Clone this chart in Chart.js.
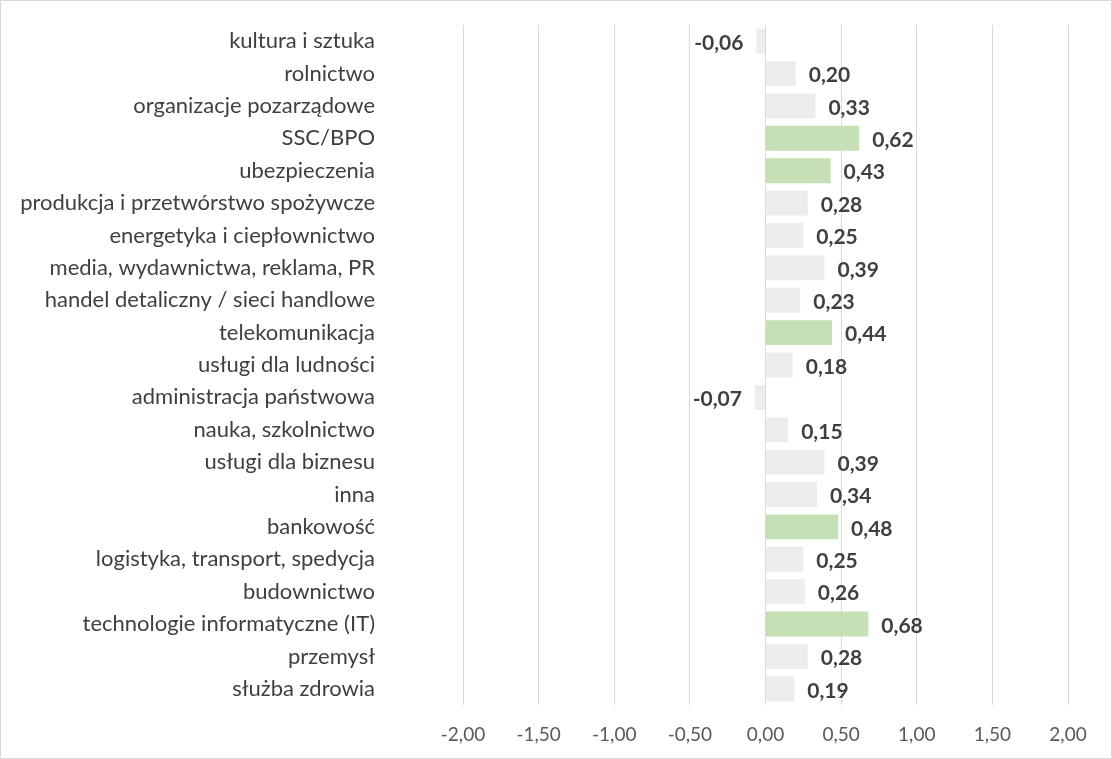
<!DOCTYPE html>
<html>
<head>
<meta charset="utf-8">
<script src="https://cdn.jsdelivr.net/npm/chart.js@4"></script>
<style>
  html, body { margin: 0; padding: 0; background: #fff; }
  #wrap { width: 1110px; height: 757px; border: 1px solid #d9d9d9; }
  canvas { display: block; }
</style>
</head>
<body>
<div id="wrap"><canvas id="chart" width="1110" height="757"></canvas></div>
<script>
const categories = [
  'kultura i sztuka', 'rolnictwo', 'organizacje pozarządowe', 'SSC/BPO', 'ubezpieczenia',
  'produkcja i przetwórstwo spożywcze', 'energetyka i ciepłownictwo', 'media, wydawnictwa, reklama, PR',
  'handel detaliczny / sieci handlowe', 'telekomunikacja', 'usługi dla ludności', 'administracja państwowa',
  'nauka, szkolnictwo', 'usługi dla biznesu', 'inna', 'bankowość', 'logistyka, transport, spedycja',
  'budownictwo', 'technologie informatyczne (IT)', 'przemysł', 'służba zdrowia'
];
const values = [
  -0.06, 0.20, 0.33, 0.62, 0.43,
  0.28, 0.25, 0.39,
  0.23, 0.44, 0.18, -0.07,
  0.15, 0.39, 0.34, 0.48, 0.25,
  0.26, 0.68, 0.28, 0.19
];
// highlighted sectors (green bars)
const highlighted = ['SSC/BPO', 'ubezpieczenia', 'telekomunikacja', 'bankowość', 'technologie informatyczne (IT)'];
const xTicks = [-2, -1.5, -1, -0.5, 0, 0.5, 1, 1.5, 2];

const fmt = v => v.toFixed(2).replace('.', ',');

const valueLabels = {
  id: 'valueLabels',
  afterDatasetsDraw(chart) {
    const ctx = chart.ctx;
    const meta = chart.getDatasetMeta(0);
    ctx.save();
    ctx.font = 'bold 21px Lato';
    ctx.fillStyle = '#404040';
    ctx.textBaseline = 'middle';
    meta.data.forEach((bar, i) => {
      const v = values[i];
      if (v < 0) {
        ctx.textAlign = 'right';
        ctx.fillText(fmt(v), bar.x - 13, bar.y + 2);
      } else {
        ctx.textAlign = 'left';
        ctx.fillText(fmt(v), bar.x + 13, bar.y + 2);
      }
    });
    ctx.restore();
  }
};

new Chart(document.getElementById('chart'), {
  type: 'bar',
  data: {
    labels: categories,
    datasets: [{
      data: values,
      backgroundColor: categories.map(c => highlighted.includes(c) ? '#c5e0b4' : '#ededed'),
      borderWidth: 0,
      categoryPercentage: 1,
      barPercentage: 0.77
    }]
  },
  options: {
    indexAxis: 'y',
    responsive: false,
    animation: false,
    layout: { padding: { top: 24, right: 43, bottom: 0, left: 0 } },
    plugins: {
      legend: { display: false },
      tooltip: { enabled: false }
    },
    scales: {
      x: {
        min: -2,
        max: 2,
        afterBuildTicks: axis => { axis.ticks = xTicks.map(v => ({ value: v })); },
        afterFit: s => { s.height = 53; },
        grid: { color: '#d9d9d9', drawTicks: false },
        border: { display: false },
        ticks: {
          padding: 18,
          color: '#595959',
          font: { family: 'Lato', size: 19 },
          callback: v => fmt(v)
        }
      },
      y: {
        afterFit: s => { s.width = 462; s.paddingTop = 0; s.paddingBottom = 0; },
        grid: { display: false, drawTicks: false },
        border: { display: false },
        ticks: {
          padding: 88,
          color: '#404040',
          autoSkip: false,
          font: { family: 'Lato', size: 22 }
        }
      }
    }
  },
  plugins: [valueLabels]
});
</script>
</body>
</html>
